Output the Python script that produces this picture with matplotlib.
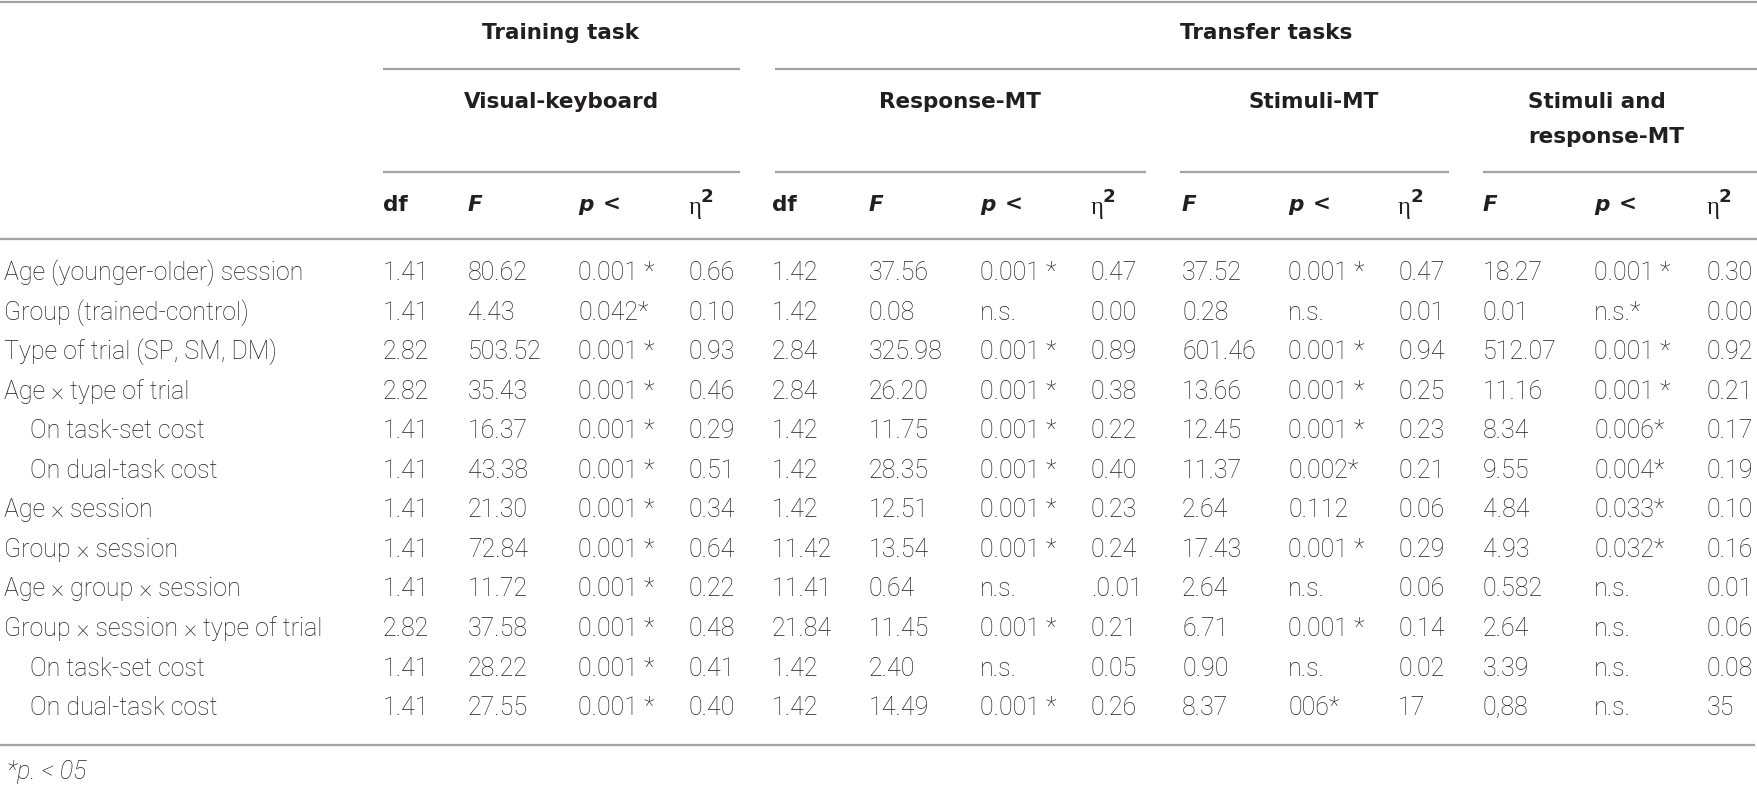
import matplotlib
matplotlib.use("Agg")
import matplotlib.pyplot as plt
from matplotlib import font_manager as fm

# ---------------- data ----------------
row_labels = [
    "Age (younger-older) session",
    "Group (trained-control)",
    "Type of trial (SP, SM, DM)",
    "Age \u00d7 type of trial",
    "On task-set cost",
    "On dual-task cost",
    "Age \u00d7 session",
    "Group \u00d7 session",
    "Age \u00d7 group \u00d7 session",
    "Group \u00d7 session \u00d7 type of trial",
    "On task-set cost",
    "On dual-task cost",
]
row_indent = [False, False, False, False, True, True, False, False, False, False, True, True]

vk_df = ["1.41", "1.41", "2.82", "2.82", "1.41", "1.41", "1.41", "1.41", "1.41", "2.82", "1.41", "1.41"]
vk_F = ["80.62", "4.43", "503.52", "35.43", "16.37", "43.38", "21.30", "72.84", "11.72", "37.58", "28.22", "27.55"]
vk_p = ["0.001 *", "0.042*", "0.001 *", "0.001 *", "0.001 *", "0.001 *", "0.001 *", "0.001 *", "0.001 *", "0.001 *", "0.001 *", "0.001 *"]
vk_eta = ["0.66", "0.10", "0.93", "0.46", "0.29", "0.51", "0.34", "0.64", "0.22", "0.48", "0.41", "0.40"]

resp_df = ["1.42", "1.42", "2.84", "2.84", "1.42", "1.42", "1.42", "11.42", "11.41", "21.84", "1.42", "1.42"]
resp_F = ["37.56", "0.08", "325.98", "26.20", "11.75", "28.35", "12.51", "13.54", "0.64", "11.45", "2.40", "14.49"]
resp_p = ["0.001 *", "n.s.", "0.001 *", "0.001 *", "0.001 *", "0.001 *", "0.001 *", "0.001 *", "n.s.", "0.001 *", "n.s.", "0.001 *"]
resp_eta = ["0.47", "0.00", "0.89", "0.38", "0.22", "0.40", "0.23", "0.24", ".0.01", "0.21", "0.05", "0.26"]

stim_F = ["37.52", "0.28", "601.46", "13.66", "12.45", "11.37", "2.64", "17.43", "2.64", "6.71", "0.90", "8.37"]
stim_p = ["0.001 *", "n.s.", "0.001 *", "0.001 *", "0.001 *", "0.002*", "0.112", "0.001 *", "n.s.", "0.001 *", "n.s.", "006*"]
stim_eta = ["0.47", "0.01", "0.94", "0.25", "0.23", "0.21", "0.06", "0.29", "0.06", "0.14", "0.02", "17"]

sr_F = ["18.27", "0.01", "512.07", "11.16", "8.34", "9.55", "4.84", "4.93", "0.582", "2.64", "3.39", "0,88"]
sr_p = ["0.001 *", "n.s.*", "0.001 *", "0.001 *", "0.006*", "0.004*", "0.033*", "0.032*", "n.s.", "n.s.", "n.s.", "n.s."]
sr_eta = ["0.30", "0.00", "0.92", "0.21", "0.17", "0.19", "0.10", "0.16", "0.01", "0.06", "0.08", "35"]

top_headers = ["Training task", "Transfer tasks"]
sub_headers = ["Visual-keyboard", "Response-MT", "Stimuli-MT", "Stimuli and\nresponse-MT"]
footnote = "*p. < 05"

# ---------------- fonts ----------------
def light_available(fam):
    for f in fm.fontManager.ttflist:
        if f.name == fam and f.style == "normal":
            w = f.weight
            if isinstance(w, str):
                w = fm.weight_dict.get(w, 400)
            if w <= 300:
                return True
    return False

BODY = "DejaVu Sans"
BODY_W = "normal"
for cand in ["Roboto", "Lato", "Open Sans", "Noto Sans", "Inter"]:
    if light_available(cand):
        BODY, BODY_W = cand, "light"
        break

HEAD = "DejaVu Sans"
plt.rcParams["font.family"] = [HEAD]

W, H = 1757, 792
fig = plt.figure(figsize=(W / 100, H / 100), dpi=100)
ax = fig.add_axes([0, 0, 1, 1])
ax.set_xlim(0, W)
ax.set_ylim(H, 0)
ax.axis("off")

TXT = "#231f20" if BODY_W == "light" else "#3a3a3a"
LINE = "#a3a3a3"
HFS = 15.5
LW = 1.6

# fit body font size so the longest row label spans ~342 px like the reference
renderer = fig.canvas.get_renderer()
probe = ax.text(0, 0, row_labels[9], fontsize=16, family=[BODY, "DejaVu Sans"], fontweight=BODY_W)
wpx = probe.get_window_extent(renderer).width
probe.remove()
BFS = 16 * 342.0 / wpx
BFS = max(13.0, min(BFS, 18.0))

def body(x, y, s, **kw):
    ax.text(x, y, s, fontsize=BFS, family=[BODY, "DejaVu Sans"], fontweight=BODY_W,
            ha="left", va="center", color=TXT, **kw)

def hline(x0, x1, y):
    ax.plot([x0, x1], [y, y], color=LINE, lw=LW, solid_capstyle="butt")

# rules
hline(0, W, 1.5)
hline(383, 740, 69)
hline(775, W, 69)
hline(383, 740, 172)
hline(775, 1146, 172)
hline(1180, 1449, 172)
hline(1483, W, 172)
hline(0, W, 239)
hline(0, 1755, 745)

HC = "#231f20"
# top headers
ax.text(561, 33, top_headers[0], fontsize=HFS, fontweight="bold", ha="center", va="center", color=HC)
ax.text(1266, 33, top_headers[1], fontsize=HFS, fontweight="bold", ha="center", va="center", color=HC)

# sub headers
ax.text(561, 102, sub_headers[0], fontsize=HFS, fontweight="bold", ha="center", va="center", color=HC)
ax.text(960, 102, sub_headers[1], fontsize=HFS, fontweight="bold", ha="center", va="center", color=HC)
ax.text(1314, 102, sub_headers[2], fontsize=HFS, fontweight="bold", ha="center", va="center", color=HC)
ax.text(1528, 102, sub_headers[3].split("\n")[0], fontsize=HFS, fontweight="bold", ha="left", va="center", color=HC)
ax.text(1528, 137, sub_headers[3].split("\n")[1], fontsize=HFS, fontweight="bold", ha="left", va="center", color=HC)

# column layout
col_x = [383, 468, 578, 689, 772, 869, 980, 1091, 1182, 1288, 1398, 1483, 1594, 1707]
col_kind = ["df", "F", "p", "eta", "df", "F", "p", "eta", "F", "p", "eta", "F", "p", "eta"]
col_vals = [vk_df, vk_F, vk_p, vk_eta, resp_df, resp_F, resp_p, resp_eta,
            stim_F, stim_p, stim_eta, sr_F, sr_p, sr_eta]

HY = 205
for x, kind in zip(col_x, col_kind):
    if kind == "df":
        ax.text(x, HY, "df", fontsize=HFS, fontweight="bold", ha="left", va="center", color=HC)
    elif kind == "F":
        ax.text(x, HY, "F", fontsize=HFS, fontweight="bold", style="italic", ha="left", va="center", color=HC)
    elif kind == "p":
        ax.text(x, HY, "p", fontsize=HFS, fontweight="bold", style="italic", ha="left", va="center", color=HC)
        ax.text(x + 25, HY, "<", fontsize=HFS, fontweight="bold", ha="left", va="center", color=HC)
    else:
        ax.text(x, HY + 3, "\u03b7", fontsize=HFS * 1.15, family=["Liberation Serif", "DejaVu Serif"],
                ha="left", va="center", color=HC)
        ax.text(x + 12, HY - 8, "2", fontsize=HFS * 0.85, fontweight="bold", ha="left", va="center", color=HC)

# body
Y0, DY = 273, 39.55
for i, lab in enumerate(row_labels):
    y = Y0 + i * DY
    body(30 if row_indent[i] else 4, y, lab)
    for x, vals in zip(col_x, col_vals):
        body(x, y, vals[i])

body(7, 772, footnote, style="italic")

fig.savefig("out.png", dpi=100)
